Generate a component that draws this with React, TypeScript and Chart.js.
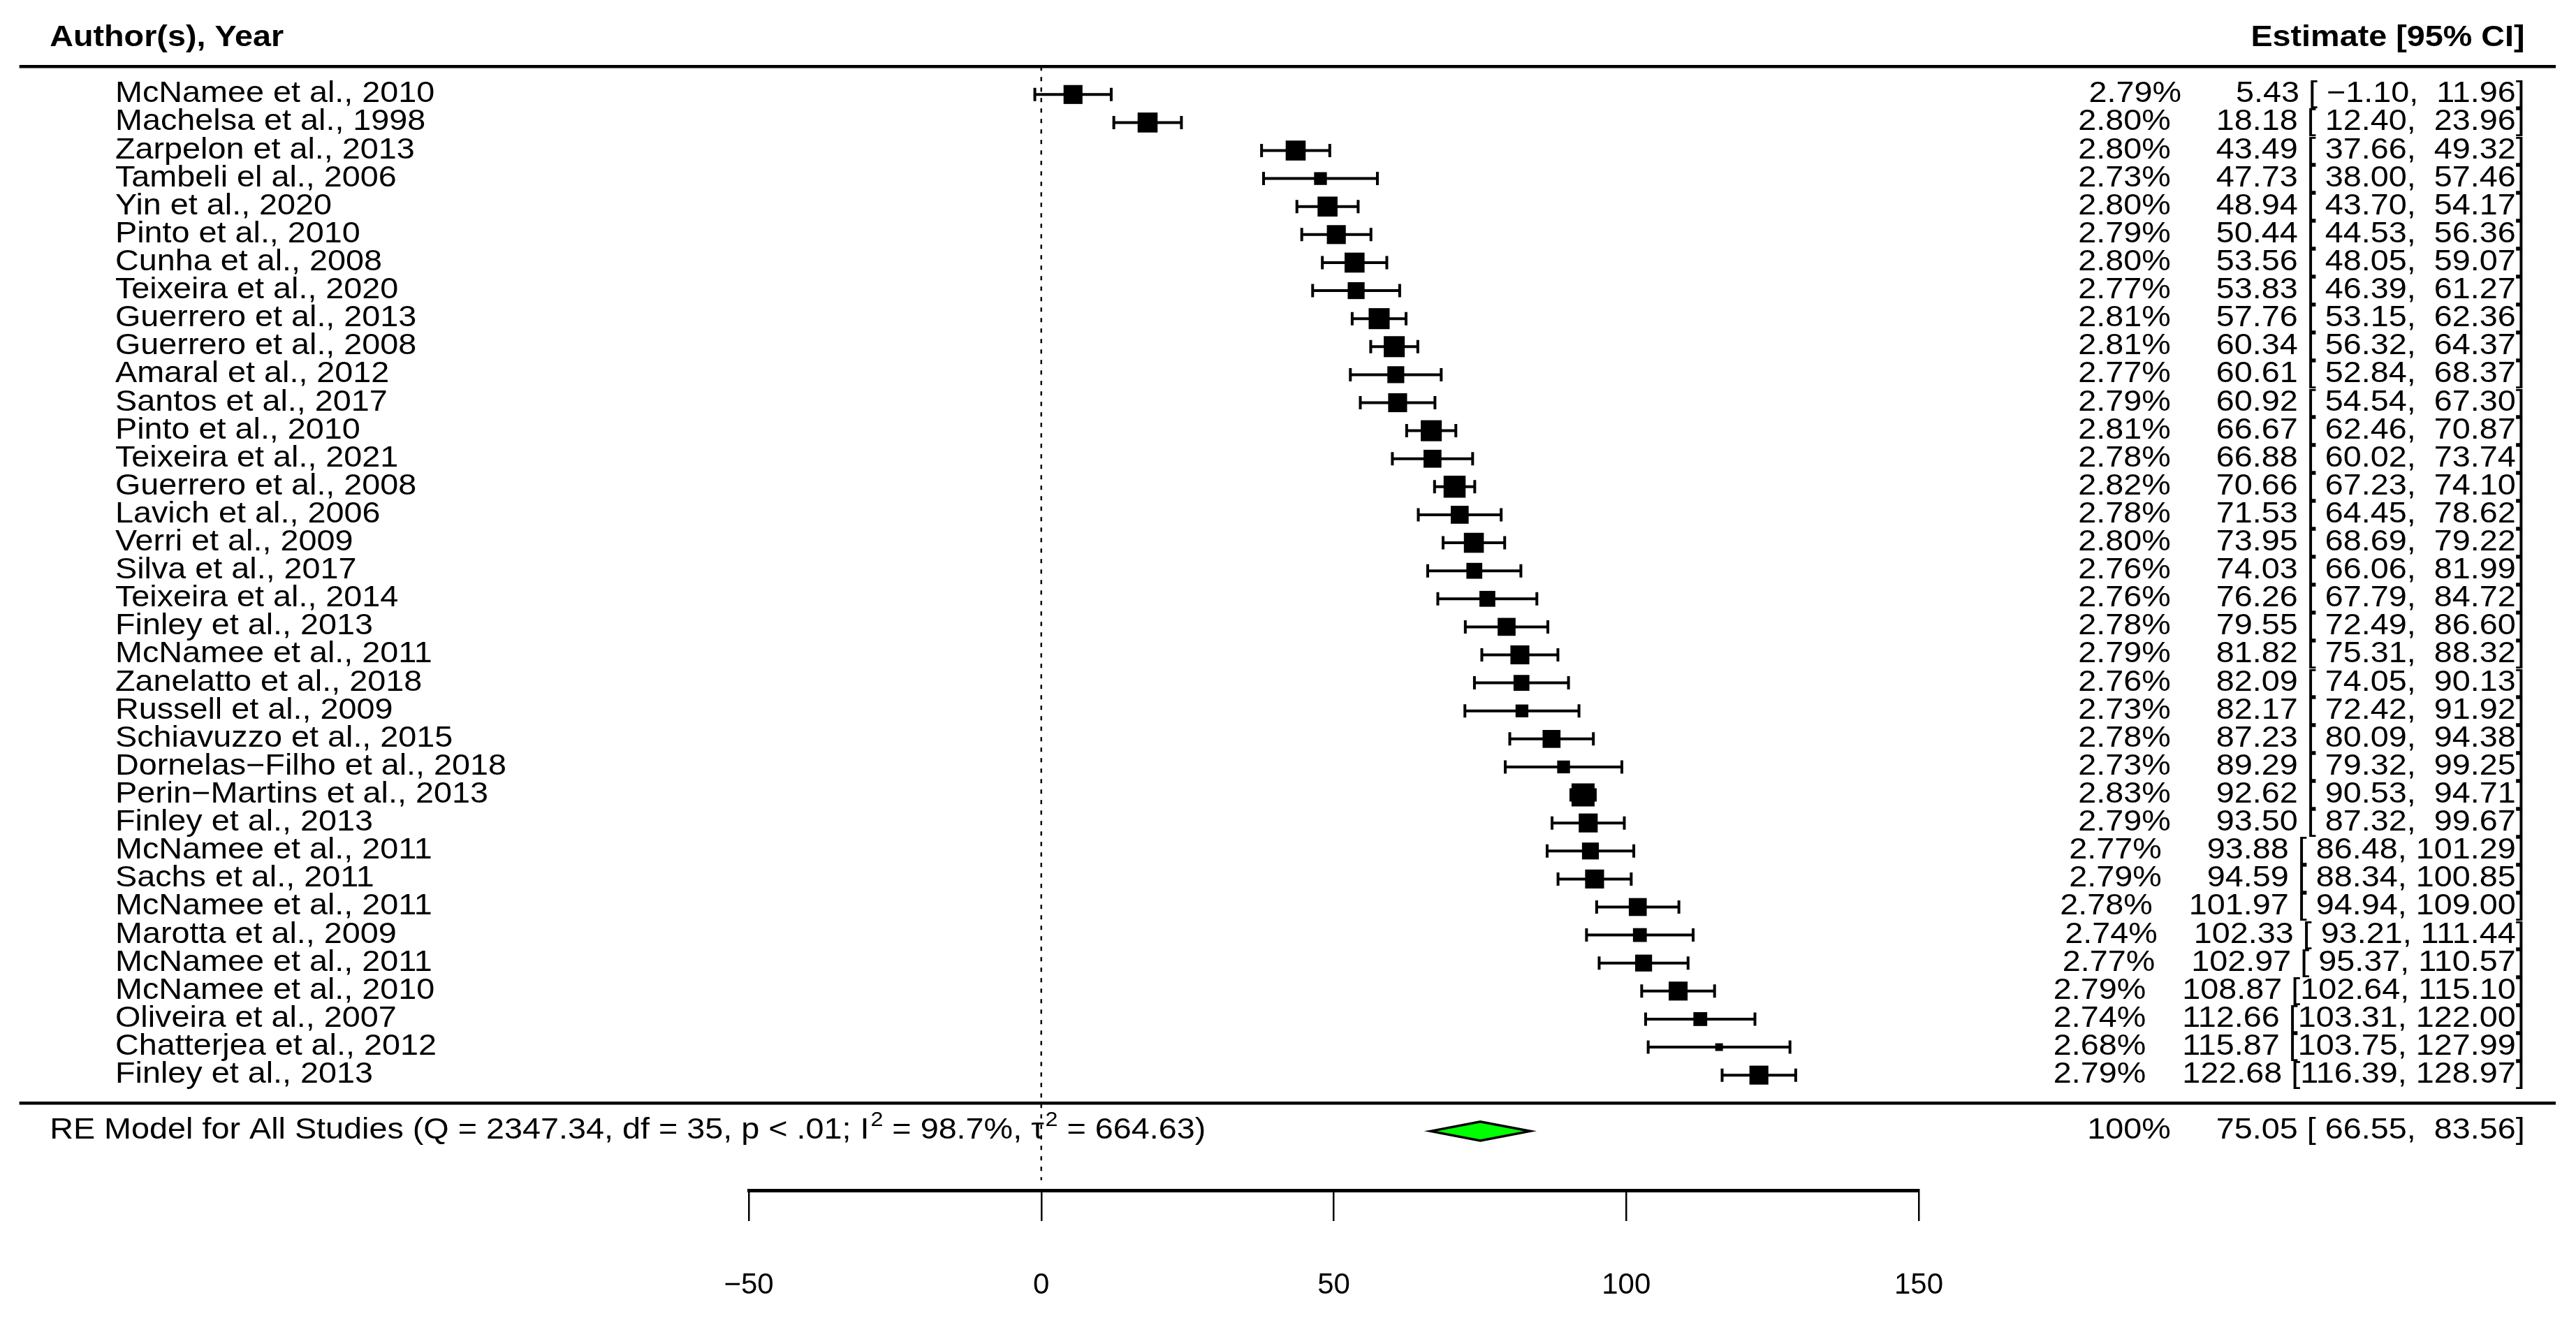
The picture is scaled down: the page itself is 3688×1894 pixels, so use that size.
import React, { useEffect, useRef } from 'react';
import { Chart, registerables } from 'chart.js';

Chart.register(...registerables);

// ---------------- data ----------------
const studyLabels = [
  'McNamee et al., 2010',
  'Machelsa et al., 1998',
  'Zarpelon et al., 2013',
  'Tambeli el al., 2006',
  'Yin et al., 2020',
  'Pinto et al., 2010',
  'Cunha et al., 2008',
  'Teixeira et al., 2020',
  'Guerrero et al., 2013',
  'Guerrero et al., 2008',
  'Amaral et al., 2012',
  'Santos et al., 2017',
  'Pinto et al., 2010',
  'Teixeira et al., 2021',
  'Guerrero et al., 2008',
  'Lavich et al., 2006',
  'Verri et al., 2009',
  'Silva et al., 2017',
  'Teixeira et al., 2014',
  'Finley et al., 2013',
  'McNamee et al., 2011',
  'Zanelatto et al., 2018',
  'Russell et al., 2009',
  'Schiavuzzo et al., 2015',
  'Dornelas\u2212Filho et al., 2018',
  'Perin\u2212Martins et al., 2013',
  'Finley et al., 2013',
  'McNamee et al., 2011',
  'Sachs et al., 2011',
  'McNamee et al., 2011',
  'Marotta et al., 2009',
  'McNamee et al., 2011',
  'McNamee et al., 2010',
  'Oliveira et al., 2007',
  'Chatterjea et al., 2012',
  'Finley et al., 2013',
];

const weights = [
  2.79, 2.80, 2.80, 2.73, 2.80, 2.79, 2.80, 2.77, 2.81, 2.81, 2.77, 2.79,
  2.81, 2.78, 2.82, 2.78, 2.80, 2.76, 2.76, 2.78, 2.79, 2.76, 2.73, 2.78,
  2.73, 2.83, 2.79, 2.77, 2.79, 2.78, 2.74, 2.77, 2.79, 2.74, 2.68, 2.79,
];

const estimates = [
  5.43, 18.18, 43.49, 47.73, 48.94, 50.44, 53.56, 53.83, 57.76, 60.34, 60.61, 60.92,
  66.67, 66.88, 70.66, 71.53, 73.95, 74.03, 76.26, 79.55, 81.82, 82.09, 82.17, 87.23,
  89.29, 92.62, 93.50, 93.88, 94.59, 101.97, 102.33, 102.97, 108.87, 112.66, 115.87, 122.68,
];

const ciLower = [
  -1.10, 12.40, 37.66, 38.00, 43.70, 44.53, 48.05, 46.39, 53.15, 56.32, 52.84, 54.54,
  62.46, 60.02, 67.23, 64.45, 68.69, 66.06, 67.79, 72.49, 75.31, 74.05, 72.42, 80.09,
  79.32, 90.53, 87.32, 86.48, 88.34, 94.94, 93.21, 95.37, 102.64, 103.31, 103.75, 116.39,
];

const ciUpper = [
  11.96, 23.96, 49.32, 57.46, 54.17, 56.36, 59.07, 61.27, 62.36, 64.37, 68.37, 67.30,
  70.87, 73.74, 74.10, 78.62, 79.22, 81.99, 84.72, 86.60, 88.32, 90.13, 91.92, 94.38,
  99.25, 94.71, 99.67, 101.29, 100.85, 109.00, 111.44, 110.57, 115.10, 122.00, 127.99, 128.97,
];

const pooledWeightLabel = '100%';
const pooledEstimate = 75.05;
const pooledLower = 66.55;
const pooledUpper = 83.56;
const pooledLabelParts = [
  { text: 'RE Model for All Studies (Q = 2347.34, df = 35, p < .01; I', sup: false },
  { text: '2', sup: true },
  { text: ' = 98.7%, \u03C4', sup: false },
  { text: '2', sup: true },
  { text: ' = 664.63)', sup: false },
];

const headerLeft = 'Author(s), Year';
const headerRight = 'Estimate [95% CI]';
const xTicks = [-50, 0, 50, 100, 150];

// ---------------- layout (in axis units) ----------------
const X_MIN = -50;
const X_MAX = 150;
const Y_MIN = -3.373;
const Y_MAX = 39.11;
const ROW_HEADER_TEXT = -2;
const ROW_HEADER_LINE = -1;
const ROW_SEPARATOR = 36;
const ROW_POOLED = 37;
const REF_LINE_END = 38.75;
const X_TEXT_LEFT = -169.5;
const X_NAME_LEFT = -158.3;
const X_TEXT_RIGHT = 253.6;
const X_LINE_LEFT = -174.7;
const X_LINE_RIGHT = 258.9;

const FONT_FAMILY = '"Liberation Sans", Arial, Helvetica, sans-serif';
const FONT_SIZE = 42;
const TEXT_SX = 1.113;
const BASELINE_OFFSET = 11;

const fmtNum = (v: number) =>
  v.toFixed(2).replace('-', '\u2212').padStart(6, '\u00A0');
const gap = '\u00A0\u00A0\u00A0\u00A0';
const annotText = (w: string, e: number, l: number, u: number) =>
  `${w}${gap}${fmtNum(e)} [${fmtNum(l)}, ${fmtNum(u)}]`;

function drawScaledText(
  ctx: CanvasRenderingContext2D,
  str: string,
  x: number,
  y: number,
  align: CanvasTextAlign,
  font: string
) {
  ctx.save();
  ctx.font = font;
  ctx.fillStyle = '#000';
  ctx.textBaseline = 'alphabetic';
  ctx.textAlign = align;
  ctx.translate(x, y);
  ctx.scale(TEXT_SX, 1);
  ctx.fillText(str, 0, 0);
  ctx.restore();
}

const forestPlugin = {
  id: 'forestPlot',
  beforeDatasetsDraw(chart: any) {
    const ctx: CanvasRenderingContext2D = chart.ctx;
    const xs = chart.scales.x;
    const ys = chart.scales.y;

    // reference (dotted) line at 0
    ctx.save();
    ctx.strokeStyle = '#000';
    ctx.lineWidth = 2.5;
    ctx.setLineDash([6, 9]);
    const x0 = xs.getPixelForValue(0);
    ctx.beginPath();
    ctx.moveTo(x0, ys.getPixelForValue(ROW_HEADER_LINE));
    ctx.lineTo(x0, ys.getPixelForValue(REF_LINE_END));
    ctx.stroke();
    ctx.restore();

    // confidence interval whiskers
    ctx.save();
    ctx.strokeStyle = '#000';
    ctx.lineWidth = 4;
    ctx.lineCap = 'butt';
    estimates.forEach((_, i) => {
      const y = ys.getPixelForValue(i);
      const xl = xs.getPixelForValue(ciLower[i]);
      const xu = xs.getPixelForValue(ciUpper[i]);
      ctx.beginPath();
      ctx.moveTo(xl, y);
      ctx.lineTo(xu, y);
      ctx.moveTo(xl, y - 9.5);
      ctx.lineTo(xl, y + 9.5);
      ctx.moveTo(xu, y - 9.5);
      ctx.lineTo(xu, y + 9.5);
      ctx.stroke();
    });
    ctx.restore();
  },
  afterDatasetsDraw(chart: any) {
    const ctx: CanvasRenderingContext2D = chart.ctx;
    const xs = chart.scales.x;
    const ys = chart.scales.y;
    const font = `${FONT_SIZE}px ${FONT_FAMILY}`;
    const bold = `bold ${FONT_SIZE}px ${FONT_FAMILY}`;
    const supFont = `29px ${FONT_FAMILY}`;

    // horizontal separator lines
    ctx.save();
    ctx.strokeStyle = '#000';
    ctx.lineWidth = 4.5;
    [ROW_HEADER_LINE, ROW_SEPARATOR].forEach((r) => {
      const y = ys.getPixelForValue(r);
      ctx.beginPath();
      ctx.moveTo(xs.getPixelForValue(X_LINE_LEFT), y);
      ctx.lineTo(xs.getPixelForValue(X_LINE_RIGHT), y);
      ctx.stroke();
    });
    ctx.restore();

    // headers
    const yh = ys.getPixelForValue(ROW_HEADER_TEXT) + BASELINE_OFFSET;
    drawScaledText(ctx, headerLeft, xs.getPixelForValue(X_TEXT_LEFT), yh, 'left', bold);
    drawScaledText(ctx, headerRight, xs.getPixelForValue(X_TEXT_RIGHT), yh, 'right', bold);

    // study labels and annotations
    studyLabels.forEach((lab, i) => {
      const y = ys.getPixelForValue(i) + BASELINE_OFFSET;
      drawScaledText(ctx, lab, xs.getPixelForValue(X_NAME_LEFT), y, 'left', font);
      drawScaledText(
        ctx,
        annotText(`${weights[i].toFixed(2)}%`, estimates[i], ciLower[i], ciUpper[i]),
        xs.getPixelForValue(X_TEXT_RIGHT),
        y,
        'right',
        font
      );
    });

    // pooled row
    const yp = ys.getPixelForValue(ROW_POOLED);
    let cx = xs.getPixelForValue(X_TEXT_LEFT);
    pooledLabelParts.forEach((p) => {
      ctx.save();
      ctx.font = p.sup ? supFont : font;
      const w = ctx.measureText(p.text).width * TEXT_SX;
      ctx.restore();
      drawScaledText(
        ctx,
        p.text,
        cx + (p.sup ? 2 : 0),
        yp + BASELINE_OFFSET - (p.sup ? 18 : 0),
        'left',
        p.sup ? supFont : font
      );
      cx += w + (p.sup ? 2 : 0);
    });
    drawScaledText(
      ctx,
      annotText(pooledWeightLabel, pooledEstimate, pooledLower, pooledUpper),
      xs.getPixelForValue(X_TEXT_RIGHT),
      yp + BASELINE_OFFSET,
      'right',
      font
    );

    // pooled diamond
    const halfH = 13.5;
    ctx.save();
    ctx.beginPath();
    ctx.moveTo(xs.getPixelForValue(pooledLower), yp);
    ctx.lineTo(xs.getPixelForValue(pooledEstimate), yp - halfH);
    ctx.lineTo(xs.getPixelForValue(pooledUpper), yp);
    ctx.lineTo(xs.getPixelForValue(pooledEstimate), yp + halfH);
    ctx.closePath();
    ctx.fillStyle = '#00FF00';
    ctx.fill();
    ctx.lineWidth = 3.5;
    ctx.lineJoin = 'miter';
    ctx.strokeStyle = '#000';
    ctx.stroke();
    ctx.restore();
  },
};

export default function App() {
  const canvasRef = useRef<HTMLCanvasElement | null>(null);

  useEffect(() => {
    const canvas = canvasRef.current;
    if (!canvas) return;
    const wMin = Math.min(...weights);
    const wMax = Math.max(...weights);
    const sides = weights.map((w) => 11 + ((w - wMin) / (wMax - wMin)) * 22);

    const chart = new Chart(canvas, {
      type: 'scatter',
      data: {
        datasets: [
          {
            data: estimates.map((e, i) => ({ x: e, y: i })),
            pointStyle: 'rect',
            pointRadius: sides.map((s) => s / Math.SQRT2),
            pointHoverRadius: sides.map((s) => s / Math.SQRT2),
            backgroundColor: '#000',
            borderColor: '#000',
            borderWidth: 0,
            clip: false,
          },
        ],
      },
      options: {
        responsive: false,
        maintainAspectRatio: false,
        devicePixelRatio: 1,
        animation: false,
        events: [],
        layout: { autoPadding: false, padding: { left: 1072, right: 941, top: 0, bottom: 0 } },
        plugins: { legend: { display: false }, tooltip: { enabled: false } },
        scales: {
          x: {
            type: 'linear',
            position: 'bottom',
            min: X_MIN,
            max: X_MAX,
            afterFit: (s: any) => {
              s.height = 190;
            },
            afterBuildTicks: (s: any) => {
              s.ticks = xTicks.map((v) => ({ value: v }));
            },
            ticks: {
              color: '#000',
              padding: 67,
              maxRotation: 0,
              autoSkip: false,
              font: { family: FONT_FAMILY, size: FONT_SIZE },
              callback: (v: any) => String(v).replace('-', '\u2212'),
            },
            grid: {
              drawOnChartArea: false,
              drawTicks: true,
              tickLength: 44,
              color: '#000',
              lineWidth: 2.5,
            },
            border: { display: true, color: '#000', width: 5 },
          },
          y: {
            type: 'linear',
            display: false,
            reverse: true,
            min: Y_MIN,
            max: Y_MAX,
          },
        },
      },
      plugins: [forestPlugin],
    } as any);

    return () => chart.destroy();
  }, []);

  return (
    <div
      style={{
        position: 'fixed',
        left: 0,
        top: 0,
        width: 3688,
        height: 1894,
        background: '#fff',
      }}
    >
      <canvas ref={canvasRef} width={3688} height={1894} style={{ display: 'block' }} />
    </div>
  );
}
